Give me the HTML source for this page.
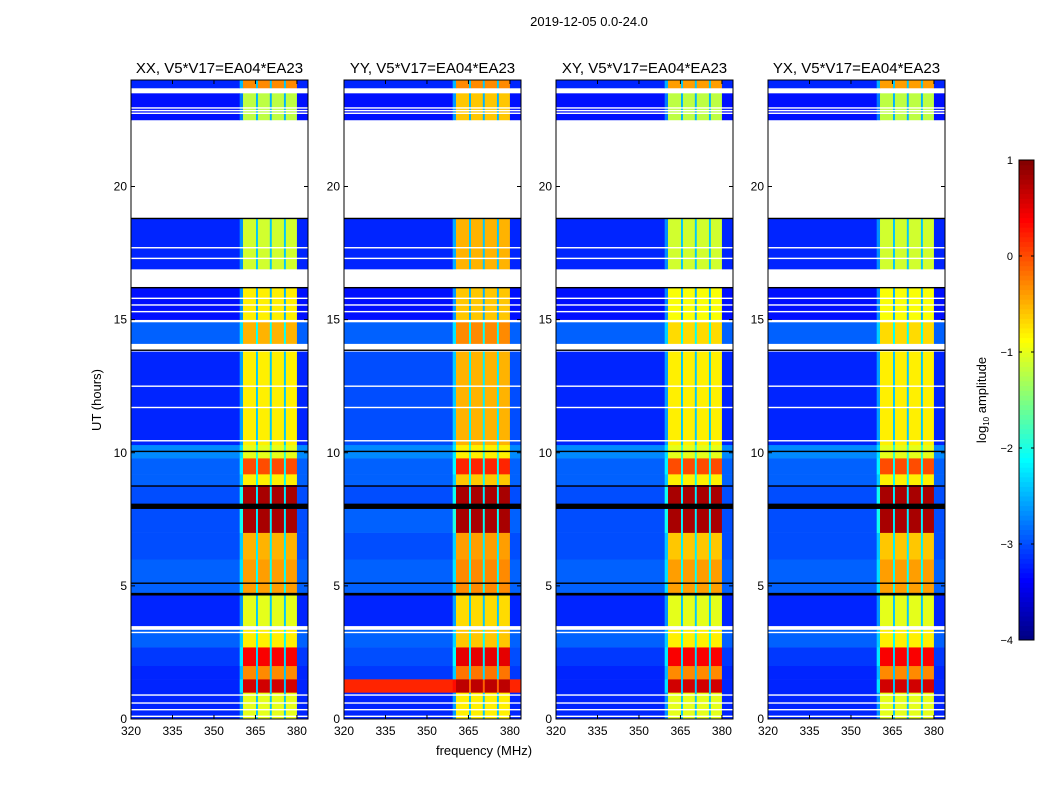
<!DOCTYPE html>
<html><head><meta charset="utf-8"><style>
body{margin:0;background:#fff;font-family:"Liberation Sans",sans-serif}
svg text{font-family:"Liberation Sans",sans-serif}
</style></head><body>
<svg id="fig" width="1050" height="800" xmlns="http://www.w3.org/2000/svg">
<rect width="1050" height="800" fill="#fff"/>
<text x="589" y="26" font-size="13" text-anchor="middle">2019-12-05 0.0-24.0</text>
<text x="0" y="0" font-size="13" text-anchor="middle" transform="translate(101,400) rotate(-90)">UT (hours)</text>
<text x="484" y="755" font-size="13" text-anchor="middle">frequency (MHz)</text>
<g id="panels"></g>
<g id="cbar"></g>
<text font-size="13" text-anchor="middle" transform="translate(986,400) rotate(-90)">log<tspan font-size="8" dy="3">10</tspan><tspan dy="-3"> amplitude</tspan></text>
</svg>
<script>
const panelTitles=["XX, V5*V17=EA04*EA23","YY, V5*V17=EA04*EA23","XY, V5*V17=EA04*EA23","YX, V5*V17=EA04*EA23"];
const segStart=[0,0.2,1.0,1.5,2.0,2.7,3.35,3.5,4.65,4.75,6.0,7.0,7.9,8.1,8.8,9.2,9.8,10.3,13.8,14.1,14.9,15.0,16.2,16.9,18.8,22.5,23.5,23.7];
const segEnd=[0.2,1.0,1.5,2.0,2.7,3.35,3.5,4.65,4.75,6.0,7.0,7.9,8.1,8.8,9.2,9.8,10.3,13.8,14.1,14.9,15.0,16.2,16.9,18.8,22.5,23.5,23.7,24];
// null = blank (white), -9 = black flagged row
const bgXX=[-3.2,-3.2,-3.2,-3.2,-3.1,-2.9,null,-3.2,-9,-2.9,-3.0,-3.0,-9,-3.0,-2.9,-2.9,-2.7,-3.2,null,-2.9,null,-3.3,null,-3.2,null,-3.3,null,-3.2];
const bandXX=[-1.0,-1.0,0.6,-0.3,0.4,-0.8,null,-1.0,-9,-0.4,-0.5,0.8,-9,0.8,-0.8,0.0,-1.0,-0.8,null,-0.5,null,-0.8,null,-1.1,null,-1.2,null,-0.3];
const bgYY=[-3.2,-3.2,0.2,-3.1,-3.0,-2.9,null,-3.2,-9,-2.9,-3.0,-2.9,0.3,-3.0,-2.9,-2.9,-2.7,-3.0,null,-2.9,null,-3.3,null,-3.2,null,-3.3,null,-3.2];
const bandYY=[-0.8,-0.8,0.7,-0.2,0.5,-0.6,null,-0.7,-9,-0.3,-0.4,0.8,-9,0.8,-0.6,0.2,-0.8,-0.5,null,-0.3,null,-0.6,null,-0.5,null,-0.6,null,-0.3];
const bgXY=[-3.2,-3.2,-3.2,-3.2,-3.1,-2.9,null,-3.2,-9,-2.9,-3.0,-3.0,-9,-3.0,-2.9,-2.9,-2.7,-3.2,null,-2.9,null,-3.3,null,-3.2,null,-3.3,null,-3.2];
const bandXY=[-1.0,-1.0,0.6,-0.3,0.4,-0.8,null,-1.0,-9,-0.4,-0.6,0.8,-9,0.8,-0.8,0.0,-1.0,-0.8,null,-0.7,null,-0.9,null,-1.1,null,-1.2,null,-0.4];
const bgYX=[-3.2,-3.2,-3.2,-3.2,-3.1,-2.9,null,-3.2,-9,-2.9,-3.0,-3.0,-9,-3.0,-2.9,-2.9,-2.7,-3.2,null,-2.9,null,-3.3,null,-3.2,null,-3.3,null,-3.2];
const bandYX=[-1.0,-1.0,0.6,-0.3,0.4,-0.8,null,-1.0,-9,-0.4,-0.6,0.8,-9,0.8,-0.8,0.0,-1.0,-0.8,null,-0.7,null,-0.9,null,-1.1,null,-1.2,null,-0.4];
const bgArr=[bgXX,bgYY,bgXY,bgYX], bandArr=[bandXX,bandYY,bandXY,bandYX];
// frequency columns (MHz) and role
const colStart=[320,359.3,360.5,365.2,365.9,370.2,370.9,375.3,376.0,380.0];
const colEnd=[359.3,360.5,365.2,365.9,370.2,370.9,375.3,376.0,380.0,384];
const colRole=["bg","ramp","band","gap","band","gap","band","gap","band","bg"];
const whiteLines=[0.1,0.35,0.6,0.9,3.25,10.45,11.7,12.5,15.3,15.55,15.8,17.3,17.7,22.75,22.85,22.95];
const blackLines=[4.7,5.1,7.95,8.75,10.05,13.85,16.2,18.8];
const yTicks=[0,5,10,15,20];
const xTicks=[320,335,350,365,380];
const cbTicks=[1,0,-1,-2,-3,-4];
const panelX=[131,344,556,768], PW=177, PT=80, PB=719;
const F0=320,F1=384,T0=0,T1=24;
function jet(v){const t=Math.max(0,Math.min(1,(v+4)/5));const c=x=>Math.round(255*Math.max(0,Math.min(1,1.5-Math.abs(4*t-x))));return `rgb(${c(3)},${c(2)},${c(1)})`;}
const NS="http://www.w3.org/2000/svg";
function mk(tag,attrs,parent){const e=document.createElementNS(NS,tag);for(const k in attrs)e.setAttribute(k,attrs[k]);parent.appendChild(e);return e;}
const root=document.getElementById('panels');
panelX.forEach((px,p)=>{
  const sx=f=>px+(f-F0)/(F1-F0)*PW, sy=h=>PB-(h-T0)/(T1-T0)*(PB-PT);
  const g=mk('g',{},root);
  
  
  const bg=bgArr[p], band=bandArr[p];
  segStart.forEach((s,i)=>{
    colStart.forEach((c,j)=>{
      let v;const role=colRole[j];
      if(bg[i]===null) return;
      if(bg[i]===-9||band[i]===-9) v=-9;
      else if(role==="bg") v=bg[i];
      else if(role==="band") v=band[i];
      else if(role==="ramp") v=(bg[i]*3+band[i])/4;
      else v=Math.min(bg[i]+0.8,band[i]-0.8);
      const r=mk('rect',{x:sx(c),y:sy(segEnd[i]),width:sx(colEnd[j])-sx(c)+0.3,height:sy(s)-sy(segEnd[i])+0.3,fill:v===-9?'#000':jet(v)},g);
      
      
    });
  });
  whiteLines.forEach(h=>{const l=mk('rect',{x:px,y:sy(h)-0.7,width:PW,height:1.4,fill:'#fff'},g);});
  blackLines.forEach(h=>{const l=mk('rect',{x:px,y:sy(h)-0.7,width:PW,height:1.4,fill:'#000'},g);});
  const fr=mk('rect',{x:px,y:PT,width:PW,height:PB-PT,fill:'none',stroke:'#000','stroke-width':1},g);
  
  const t=mk('text',{x:px+PW/2,y:73,'font-size':15,'text-anchor':'middle'},g);t.textContent=panelTitles[p];
  
  yTicks.forEach(v=>{const y=sy(v);
    mk('line',{x1:px,x2:px+4,y1:y,y2:y,stroke:'#000'},g);mk('line',{x1:px+PW-4,x2:px+PW,y1:y,y2:y,stroke:'#000'},g);
    const l=mk('text',{x:px-4,y:y+4,'font-size':12,'text-anchor':'end'},g);l.textContent=v;
    });
  xTicks.forEach(v=>{const x=sx(v);
    mk('line',{x1:x,x2:x,y1:PB,y2:PB-4,stroke:'#000'},g);mk('line',{x1:x,x2:x,y1:PT,y2:PT+4,stroke:'#000'},g);
    const l=mk('text',{x:x,y:735,'font-size':12,'text-anchor':'middle'},g);l.textContent=v;
    });
});
// colorbar
const cb=document.getElementById('cbar');const CX=1019,CW=15,CT=160,CB=640;
const cy=v=>CB-(v+4)/5*(CB-CT);
const N=100;for(let i=0;i<N;i++){const v=-4+5*(i+0.5)/N;const r=mk('rect',{x:CX,y:cy(-4+5*(i+1)/N),width:CW,height:(CB-CT)/N+0.5,fill:jet(v)},cb);}
mk('rect',{x:CX,y:CT,width:CW,height:CB-CT,fill:'none',stroke:'#000'},cb);
cbTicks.forEach(v=>{const y=cy(v);mk('line',{x1:CX,x2:CX+3,y1:y,y2:y,stroke:'#000'},cb);mk('line',{x1:CX+CW-3,x2:CX+CW,y1:y,y2:y,stroke:'#000'},cb);
  const l=mk('text',{x:CX-6,y:y+4,'font-size':11,'text-anchor':'end'},cb);l.textContent=v<0?'\u2212'+(-v):v;
  });
</script>
</body></html>
